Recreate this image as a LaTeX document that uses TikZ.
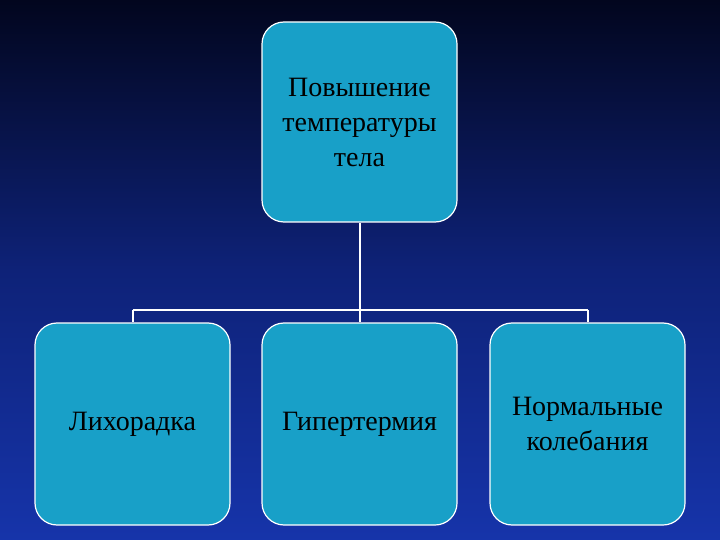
\documentclass[tikz,border=0pt]{standalone}
\usepackage{fontspec}
\setmainfont{Liberation Serif}
\definecolor{boxfill}{RGB}{24,160,200}
\definecolor{bgtop}{RGB}{2,6,30}
\definecolor{bgbot}{RGB}{22,52,170}
\begin{document}
\begin{tikzpicture}[x=1pt,y=-1pt,
  box/.style={draw=white,line width=1.2pt,fill=boxfill,rounded corners=22pt,
    minimum width=195pt,minimum height=200pt,align=center,font=\fontsize{28}{35}\selectfont,text=black},
  conn/.style={draw=white,line width=2pt}]
\shade[top color=bgtop,bottom color=bgbot,middle color={rgb,255:red,14;green,34;blue,120}] (0,0) rectangle (720,540);
\useasboundingbox (0,0) rectangle (720,540);
\node[box] (top) at (359.5,122) {Повышение\\температуры\\тела};
\node[box,minimum height=202pt] (a) at (132.5,424) {Лихорадка};
\node[box,minimum height=202pt] (b) at (359.5,424) {Гипертермия};
\node[box,minimum height=202pt] (c) at (587.5,424) {Нормальные\\колебания};
\coordinate (h) at (359.5,310);
\coordinate (hl) at (132.5,310);
\coordinate (hr) at (587.5,310);
\draw[conn] (top.south) -- (h);
\draw[conn] (hl) -- (hr);
\draw[conn] (hl) -- (a.north);
\draw[conn] (h) -- (b.north);
\draw[conn] (hr) -- (c.north);
\end{tikzpicture}
\end{document}
